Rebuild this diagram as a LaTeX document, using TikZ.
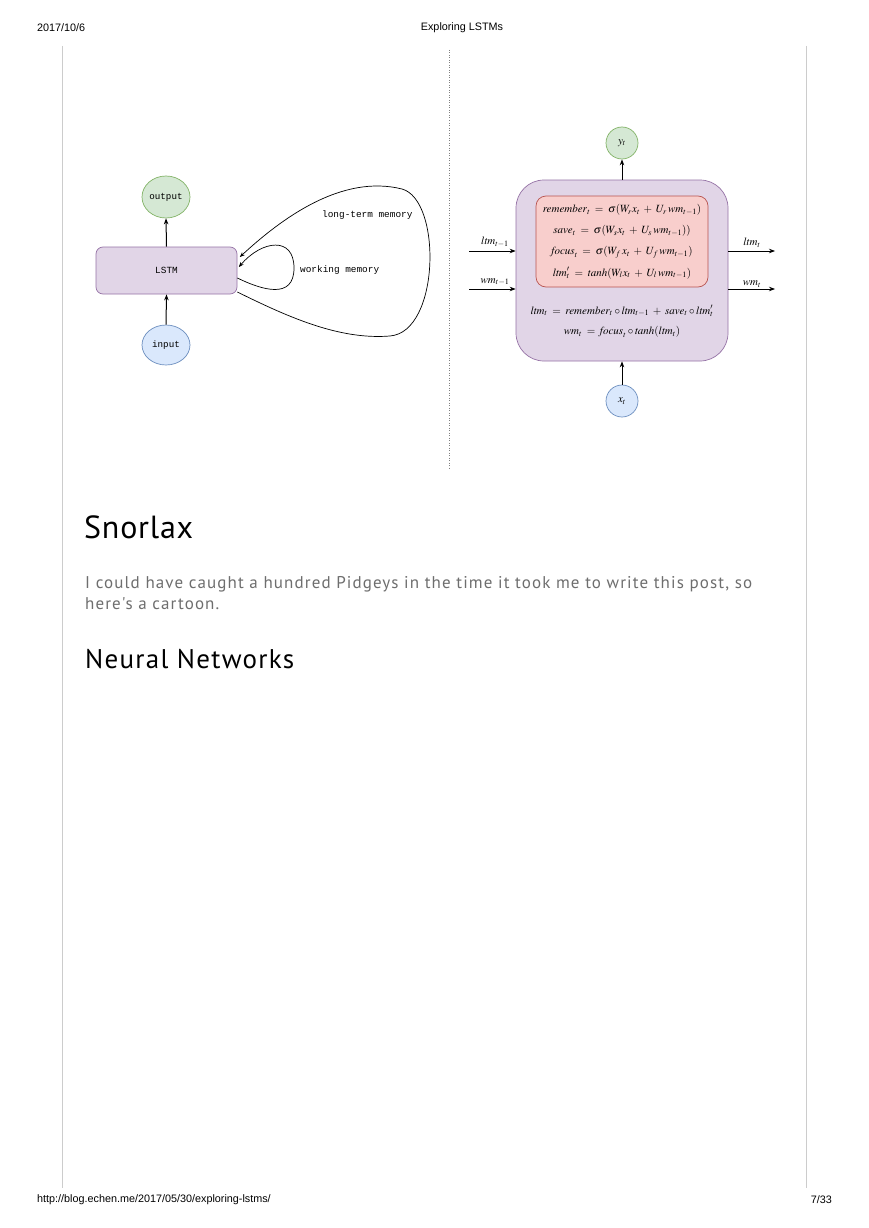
\documentclass[tikz,border=0pt]{standalone}
\usepackage{mathptmx}
\usepackage[no-math]{fontspec}
\setmainfont{Liberation Serif}
\newfontfamily\hdrfont{Liberation Sans}
\newfontfamily\bodyfont{PT Sans}
\newfontfamily\hA[LetterSpace=2.5]{PT Sans}
\newfontfamily\hB[LetterSpace=4.7]{PT Sans}
\newfontfamily\pfont[LetterSpace=6.5]{PT Sans}
\newfontfamily\monofont{Liberation Mono}
\usetikzlibrary{shapes.geometric,arrows.meta}
\definecolor{gfill}{HTML}{D5E8D4}\definecolor{gdraw}{HTML}{82B366}
\definecolor{bfill}{HTML}{DAE8FC}\definecolor{bdraw}{HTML}{6C8EBF}
\definecolor{pfill}{HTML}{E1D5E7}\definecolor{pdraw}{HTML}{9673A6}
\definecolor{rfill}{HTML}{F8CECC}\definecolor{rdraw}{HTML}{B85450}
\definecolor{bodygray}{HTML}{6E6E6E}
\definecolor{rulegray}{HTML}{CCCCCC}
\newcommand{\eqsp}{\mskip 3.5mu}
\tikzset{
  hdr/.style={font=\hdrfont\fontsize{10.8}{12}\selectfont, inner sep=0pt},
  mono/.style={font=\monofont\fontsize{9.4}{11}\selectfont, inner sep=0pt},
  eq/.style={font=\fontsize{11}{13}\selectfont, inner sep=0pt},
  ell/.style={ellipse, draw, line width=0.7pt, minimum width=48pt, minimum height=42pt, inner sep=0pt, font=\monofont\fontsize{9.2}{11}\selectfont},
  circ/.style={circle, draw, line width=0.7pt, minimum size=32pt, inner sep=0pt, font=\fontsize{11}{13}\selectfont},
  arr/.style={line width=1pt, -{Stealth[length=6pt,width=4.5pt]}},
  loop/.style={line width=0.7pt, -{Stealth[length=5pt,width=4pt]}},
  sidearr/.style={line width=0.8pt, -{Stealth[length=6pt,width=4.5pt]}},
  body/.style={font=\pfont\fontsize{17}{21}\selectfont, text=bodygray, anchor=base west, inner sep=0pt},
}
\begin{document}
\begin{tikzpicture}[x=1pt,y=-1pt]
\useasboundingbox[fill=white] (0,0) rectangle (868,1228);
% header
\node[hdr, anchor=west] (date) at (37,28) {2017/10/6};
\node[hdr] (title) at (462,28) {Exploring LSTMs};
% rules
\coordinate (lt) at (62,46); \coordinate (lb) at (62,1188);
\coordinate (rt) at (806,46); \coordinate (rb) at (806,1188);
\draw[rulegray, line width=0.8pt] (lt) -- (lb);
\draw[rulegray, line width=0.8pt] (rt) -- (rb);
\coordinate (dt) at (449,50); \coordinate (db) at (449,468);
\draw[gray, line width=0.6pt, dash pattern=on 1pt off 1.5pt] (dt) -- (db);
% left diagram
\node[ell, fill=gfill, draw=gdraw] (out) at (166,197) {output};
\node[draw=pdraw, fill=pfill, line width=0.7pt, rounded corners=7pt, minimum width=141pt, minimum height=47pt, inner sep=0pt, mono] (lstm) at (166.5,270.5) {LSTM};
\node[ell, fill=bfill, draw=bdraw, minimum height=40pt] (in) at (166,345) {input};
\draw[arr] (lstm.north) -- (out.south);
\draw[arr] (in.north) -- (lstm.south);
\coordinate (wms) at ([yshift=-7.5pt]lstm.east);
\coordinate (wme) at ([xshift=1.5pt,yshift=3.5pt]lstm.east);
\coordinate (lms) at ([yshift=-21.5pt]lstm.east);
\coordinate (lme) at ([xshift=2.5pt,yshift=13.5pt]lstm.east);
\draw[loop] (wms) .. controls (262,290) and (294,300) .. (294,268) .. controls (294,236) and (262,240) .. (wme);
\draw[loop] (lms) .. controls (290,318) and (340,340) .. (390,336) .. controls (440,332) and (442,200) .. (402,189) .. controls (342,174) and (282,218) .. (lme);
\node[mono, anchor=west] (ltml) at (322,215) {long-term memory};
\node[mono, anchor=west] (wml) at (300,270) {working memory};
% right diagram
\node[draw=pdraw, fill=pfill, line width=0.7pt, rounded corners=28pt, minimum width=212pt, minimum height=181pt, inner sep=0pt] (cell) at (622,270.5) {};
\node[draw=rdraw, fill=rfill, line width=0.7pt, rounded corners=10pt, minimum width=172pt, minimum height=91pt, inner sep=0pt] (gates) at (622,241.5) {};
\node[eq] (e1) at (622,210) {$\mathit{remember}_t \eqsp=\eqsp \sigma(W_r x_t \eqsp+\eqsp U_r\, wm_{t-1})$};
\node[eq] (e2) at (622,231) {$\mathit{save}_t \eqsp=\eqsp \sigma(W_s x_t \eqsp+\eqsp U_s\, wm_{t-1}))$};
\node[eq] (e3) at (622,252) {$\mathit{focus}_t \eqsp=\eqsp \sigma(W_f\, x_t \eqsp+\eqsp U_f\, wm_{t-1})$};
\node[eq] (e4) at (622,273) {$\mathit{ltm}'_t \eqsp=\eqsp \mathit{tanh}(W_l x_t \eqsp+\eqsp U_l\, wm_{t-1})$};
\node[eq] (e5) at (622,311) {$\mathit{ltm}_t \eqsp=\eqsp \mathit{remember}_t \circ \mathit{ltm}_{t-1} \eqsp+\eqsp \mathit{save}_t \circ \mathit{ltm}'_t$};
\node[eq] (e6) at (622,332) {$wm_t \eqsp=\eqsp \mathit{focus}_t \circ \mathit{tanh}(\mathit{ltm}_t)$};
\node[circ, fill=gfill, draw=gdraw] (yt) at (622,143) {$y_t$};
\node[circ, fill=bfill, draw=bdraw] (xt) at (622,401) {$x_t$};
\draw[arr] (cell.north) -- (yt.south);
\draw[arr] (xt.north) -- (cell.south);
\coordinate (li) at (469,251); \coordinate (wi) at (469,289);
\coordinate (lo) at (775,251); \coordinate (wo) at (775,289);
\draw[sidearr] (li) -- (li -| cell.west);
\draw[sidearr] (wi) -- (wi -| cell.west);
\draw[sidearr] (li -| cell.east) -- (lo);
\draw[sidearr] (wi -| cell.east) -- (wo);
\node[eq] (lil) at (495,242) {$\mathit{ltm}_{t-1}$};
\node[eq] (wil) at (495,282) {$wm_{t-1}$};
\node[eq] (lol) at (752,243) {$\mathit{ltm}_t$};
\node[eq] (wol) at (752,284) {$wm_t$};
% text
\node[font=\hA\fontsize{32}{38}\selectfont, anchor=base west, inner sep=0pt] (h1) at (84,538) {Snorlax};
\node[body] (p1) at (85,588) {I could have caught a hundred Pidgeys in the time it took me to write this post, so};
\node[body] (p2) at (85,609) {here's a cartoon.};
\node[font=\hB\fontsize{27}{32}\selectfont, anchor=base west, inner sep=0pt] (h2) at (85,668) {Neural Networks};
% footer
\node[hdr, anchor=west] (url) at (37,1200) {http://blog.echen.me/2017/05/30/exploring-lstms/};
\node[hdr, anchor=east] (pg) at (832,1200) {7/33};
\end{tikzpicture}
\end{document}
